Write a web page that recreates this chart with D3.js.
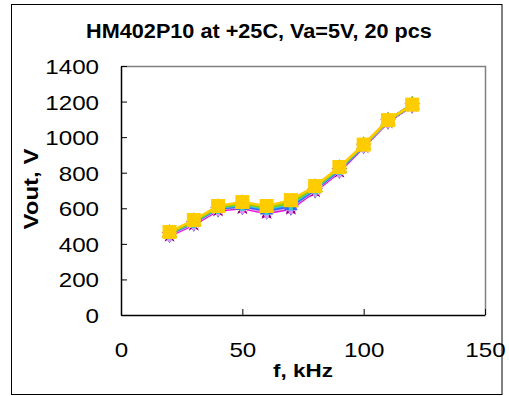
<!DOCTYPE html>
<html>
<head>
<meta charset="utf-8">
<script src="https://cdn.jsdelivr.net/npm/d3@7"></script>
<style>
  body { margin: 0; background: #fff; }
  text { font-family: "Liberation Sans", Arial, sans-serif; fill: #000; }
</style>
</head>
<body>
<div id="container"></div>
<script>
let w = 509;
let h = 396;

// frequencies, kHz
let freqs = [20, 30, 40, 50, 60, 70, 80, 90, 100, 110, 120];

// Vout of each of the 20 pieces, V
let s1  = [452, 515, 595, 608, 582, 605, 702, 812, 950, 1088, 1179];
let s2  = [445, 508, 588, 600, 572, 597, 695, 805, 945, 1085, 1178];
let s3  = [458, 522, 600, 615, 590, 612, 708, 818, 952, 1090, 1180];
let s4  = [456, 520, 598, 618, 592, 618, 712, 820, 954, 1092, 1184];
let s5  = [450, 512, 592, 605, 578, 602, 700, 810, 948, 1087, 1178];
let s6  = [454, 518, 596, 612, 586, 610, 705, 815, 951, 1089, 1180];
let s7  = [457, 521, 601, 620, 595, 620, 712, 822, 955, 1093, 1182];
let s8  = [455, 519, 600, 616, 590, 615, 710, 818, 955, 1094, 1185];
let s9  = [459, 524, 603, 622, 598, 625, 715, 824, 954, 1092, 1181];
let s10 = [461, 526, 605, 625, 600, 628, 716, 825, 956, 1094, 1182];
let s11 = [460, 525, 604, 624, 599, 626, 714, 823, 953, 1091, 1180];
let s12 = [458, 522, 602, 618, 594, 619, 709, 819, 950, 1089, 1179];
let s13 = [457, 520, 600, 614, 588, 612, 706, 816, 952, 1090, 1181];
let s14 = [451, 514, 594, 606, 579, 604, 701, 811, 949, 1088, 1179];
let s15 = [453, 516, 596, 609, 583, 607, 703, 813, 950, 1089, 1180];
let s16 = [463, 529, 608, 630, 606, 636, 720, 828, 956, 1094, 1182];
let s17 = [456, 519, 599, 612, 587, 611, 706, 815, 952, 1091, 1181];
let s18 = [459, 523, 602, 620, 596, 622, 712, 821, 954, 1093, 1183];
let s19 = [462, 527, 606, 627, 603, 632, 718, 826, 955, 1092, 1181];
let s20 = [467, 534, 613, 635, 613, 646, 725, 832, 958, 1096, 1183];

let allSeries = [s1, s2, s3, s4, s5, s6, s7, s8, s9, s10,
                 s11, s12, s13, s14, s15, s16, s17, s18, s19, s20];

let colors = ["#000080", "#FF00FF", "#FFFF00", "#00FFFF", "#800080",
              "#800000", "#008080", "#0000FF", "#00CCFF", "#CCFFFF",
              "#CCFFCC", "#FFFF99", "#99CCFF", "#FF99CC", "#CC99FF",
              "#FFCC99", "#3366FF", "#33CCCC", "#99CC00", "#FFCC00"];

let shapes = [d3.symbolDiamond, d3.symbolSquare, d3.symbolTriangle, d3.symbolCross,
              d3.symbolStar, d3.symbolCircle, d3.symbolCross, d3.symbolDiamond,
              d3.symbolSquare, d3.symbolTriangle, d3.symbolCross, d3.symbolStar,
              d3.symbolCircle, d3.symbolCross, d3.symbolDiamond, d3.symbolSquare,
              d3.symbolTriangle, d3.symbolCross, d3.symbolTriangle, d3.symbolSquare];

let xTicks = [0, 50, 100, 150];
let yTicks = [0, 200, 400, 600, 800, 1000, 1200, 1400];

let pLeft = 121, pRight = 485, pTop = 66, pBottom = 315;

let viz = d3.select("#container")
  .append("svg")
    .attr("width", w)
    .attr("height", h)
    .style("background-color", "#fff")
;

// the original text is a bit wider than the font, stretch it
function stretch(sel, k) {
  sel.each(function() {
    let len = this.getComputedTextLength();
    d3.select(this)
      .attr("textLength", len * k)
      .attr("lengthAdjust", "spacingAndGlyphs");
  });
}

// chart border
viz.append("rect")
    .attr("x", 11.5).attr("y", 4.5)
    .attr("width", 490.5).attr("height", 390)
    .attr("fill", "white")
    .attr("stroke", "#000")
;

let x = d3.scaleLinear().domain([0, 150]).range([pLeft, pRight]);
let y = d3.scaleLinear().domain([0, 1400]).range([pBottom, pTop]);

// plot area top/right edges (grey)
viz.append("path")
    .attr("d", `M${pLeft},${pTop + 0.5}H${pRight + 0.5}V${pBottom}`)
    .attr("fill", "none")
    .attr("stroke", "#808080")
    .attr("stroke-width", 1.5)
;

let xAxis = viz.append("g")
    .attr("transform", `translate(0,${pBottom})`)
    .call(d3.axisBottom(x).tickValues(xTicks).tickFormat(d3.format("d"))
      .tickSize(-6).tickPadding(27).tickSizeOuter(0));

let yAxis = viz.append("g")
    .attr("transform", `translate(${pLeft},0)`)
    .call(d3.axisLeft(y).tickValues(yTicks).tickFormat(d3.format("d"))
      .tickSize(-6).tickPadding(22).tickSizeOuter(0));

[xAxis, yAxis].forEach(a => {
  a.select(".domain").attr("stroke", "#000").attr("stroke-width", 1.5);
  a.selectAll(".tick line").attr("stroke", "#000");
  a.selectAll(".tick text")
    .style("font-family", "'Liberation Sans', Arial, sans-serif")
    .style("font-size", "21px")
    .attr("fill", "#000")
    .call(stretch, 1.15);
});
xAxis.selectAll(".tick text").attr("dy", "0.71em");
yAxis.selectAll(".tick text").attr("dy", "0.36em");

// series lines and markers
let line = d3.line()
    .x((d, i) => x(freqs[i]))
    .y(d => y(d));

let groups = viz.selectAll(".series").data(allSeries).enter()
  .append("g")
    .attr("class", "series")
;

groups.append("path")
    .attr("d", d => line(d))
    .attr("fill", "none")
    .attr("stroke", (d, i) => colors[i])
    .attr("stroke-width", 2.5)
;

groups.each(function(series, si) {
  let size = si == 19 ? 196 : (si == 18 ? 110 : 80);
  let sym = d3.symbol().type(shapes[si]).size(size);
  d3.select(this).selectAll("path.mk").data(series).enter()
    .append("path")
      .attr("class", "mk")
      .attr("d", sym)
      .attr("fill", colors[si])
      .attr("transform", (d, i) => `translate(${x(freqs[i])},${y(d)})`)
  ;
});

// titles
viz.append("text")
    .attr("x", 259).attr("y", 38)
    .attr("text-anchor", "middle")
    .style("font-size", "19.5px")
    .style("font-weight", "bold")
    .text("HM402P10 at +25C, Va=5V, 20 pcs")
    .call(stretch, 1.11)
;

viz.append("text")
    .attr("x", 303).attr("y", 377)
    .attr("text-anchor", "middle")
    .style("font-size", "19px")
    .style("font-weight", "bold")
    .text("f, kHz")
    .call(stretch, 1.18)
;

viz.append("text")
    .attr("transform", "translate(38,189) rotate(-90)")
    .attr("text-anchor", "middle")
    .style("font-size", "20px")
    .style("font-weight", "bold")
    .text("Vout, V")
    .call(stretch, 1.2)
;
</script>
</body>
</html>
